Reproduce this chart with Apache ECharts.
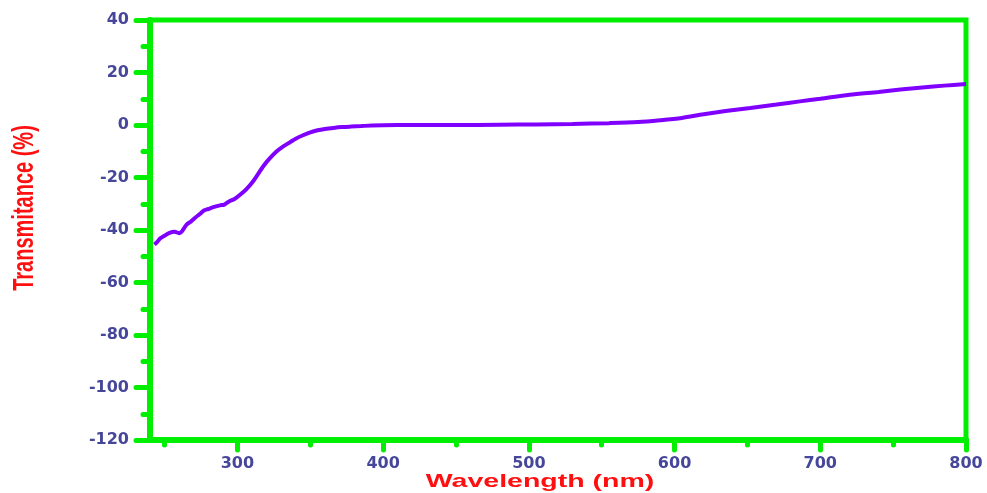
<!DOCTYPE html>
<html>
<head>
<meta charset="utf-8">
<script src="https://cdn.jsdelivr.net/npm/echarts@6/dist/echarts.min.js"></script>
<style>
  html, body { margin: 0; padding: 0; background: #fff; }
  #chart { width: 987px; height: 493px; }
</style>
</head>
<body>
<div id="chart"></div>
<script>
// wavelength (nm) and transmittance (%)
const wavelength = [243, 245, 247, 250, 253, 257, 260, 262, 265, 268, 271, 274, 277, 280, 284, 288, 291, 294, 298,
  302, 306, 310, 314, 318, 322, 327, 331, 336, 340, 345, 350, 355, 360, 366, 372, 378, 385, 392, 400,
  420, 450, 480, 505, 530, 555, 575, 590, 605, 620, 635, 652, 670, 686, 700, 720, 740, 755, 770, 785, 800]
const transmittance = [-45.5, -44.5, -43.2, -42.2, -41.2, -40.7, -41.2, -40.5, -38, -36.8, -35.3, -34, -32.6, -32, -31.2, -30.6, -30.3, -29.2, -28.2,
  -26.5, -24.5, -22, -18.8, -15.5, -12.8, -10, -8.3, -6.6, -5.2, -3.9, -2.8, -2, -1.5, -1.1, -0.8, -0.6, -0.4, -0.2, -0.1,
  0, 0, 0.1, 0.2, 0.4, 0.7, 1.1, 1.8, 2.7, 4.1, 5.3, 6.5, 7.8, 9.0, 10.0, 11.5, 12.6, 13.5, 14.3, 15.0, 15.6]
const xLabels = [300, 400, 500, 600, 700, 800]
const xMajorTicks = [300, 400, 500, 600, 700, 800]
const xMinorTicks = [250, 350, 450, 550, 650, 750]

const green = '#00ee00'
const labelColor = '#46469a'
const labelFont = { color: labelColor, fontFamily: 'DejaVu Sans', fontWeight: 'bold', fontSize: 16 }

const chart = echarts.init(document.getElementById('chart'))

const xBase = { type: 'value', min: 240, max: 800, position: 'bottom', offset: 0, splitLine: { show: false } }
const tickStyle = { color: green, width: 5, cap: 'round' }

chart.setOption({
  animation: false,
  grid: {
    left: 150, right: 21, top: 20, bottom: 53,
    show: true, borderColor: green, borderWidth: 5, backgroundColor: '#fff',
  },
  xAxis: [
    {
      // labels
      ...xBase,
      axisLine: { show: false, onZero: false },
      axisTick: { show: false },
      axisLabel: { show: true, customValues: xLabels, margin: 16, ...labelFont },
    },
    {
      // minor ticks + axis line
      ...xBase,
      axisLine: { show: true, onZero: false, lineStyle: { color: green, width: 6, cap: 'round' } },
      axisTick: { show: true, customValues: xMinorTicks, length: 5, lineStyle: tickStyle },
      axisLabel: { show: false },
    },
    {
      // major ticks
      ...xBase,
      axisLine: { show: false, onZero: false },
      axisTick: { show: true, customValues: xMajorTicks, length: 10, lineStyle: tickStyle },
      axisLabel: { show: false },
    },
  ],
  yAxis: {
    type: 'value', min: -120, max: 40, interval: 20,
    axisLine: { show: true, onZero: false, lineStyle: { color: green, width: 6, cap: 'round' } },
    axisTick: { show: true, length: 14, lineStyle: tickStyle },
    minorTick: { show: true, splitNumber: 2, length: 7, lineStyle: tickStyle },
    axisLabel: { margin: 21, ...labelFont },
    splitLine: { show: false },
  },
  graphic: [
    {
      type: 'text', x: 540, y: 482, scaleX: 1.5,
      style: {
        text: 'Wavelength (nm)', fill: '#ff1010', font: 'bold 19px "Liberation Sans", Arial',
        align: 'center', verticalAlign: 'middle',
      },
    },
    {
      type: 'text', x: 25, y: 208, rotation: Math.PI / 2, scaleY: 1.45,
      style: {
        text: 'Transmitance (%)', fill: '#ff1010', font: 'bold 20px "Liberation Sans", Arial',
        align: 'center', verticalAlign: 'middle',
      },
    },
  ],
  series: [
    {
      type: 'line',
      xAxisIndex: 1,
      data: wavelength.map((w, i) => [w, transmittance[i]]),
      showSymbol: false,
      smooth: 0.3,
      lineStyle: { color: '#8000ff', width: 4 },
      z: 3,
    },
  ],
})
</script>
</body>
</html>
